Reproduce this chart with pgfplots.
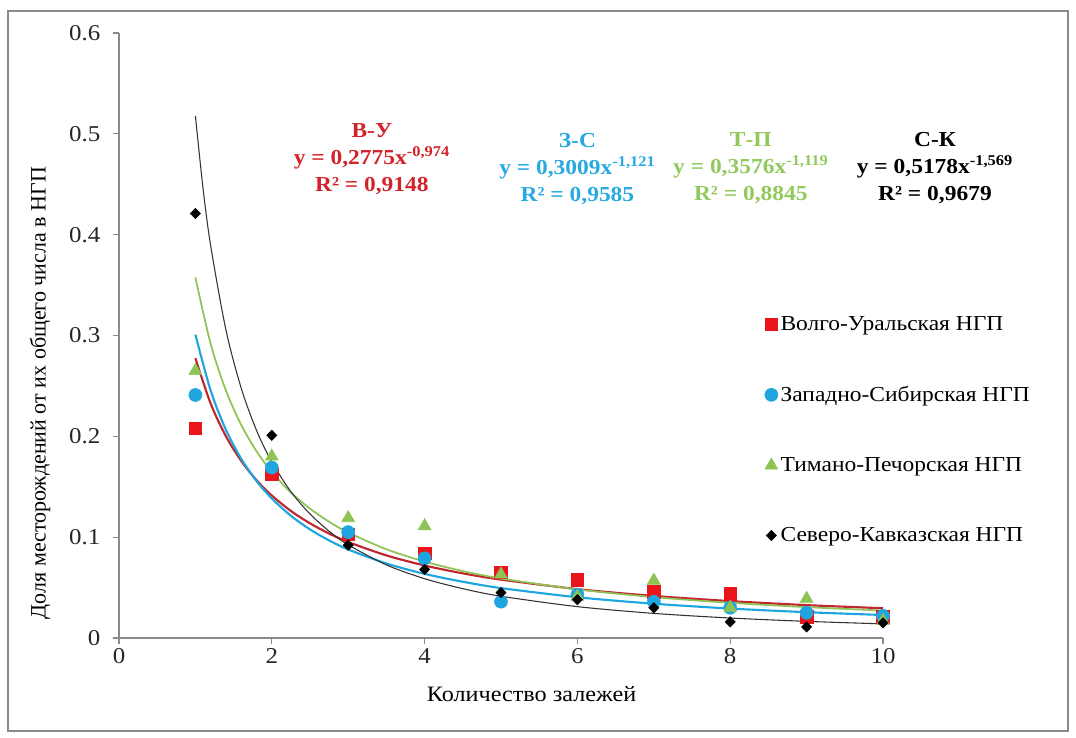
\documentclass[border=0pt]{standalone}
\usepackage{pgfplots}
\pgfplotsset{compat=1.18}
\usepackage{fontspec}
\setmainfont[FakeStretch=1.1]{Liberation Serif}
\newfontfamily\plainserif{Liberation Serif}
\definecolor{cred}{HTML}{E8161B}
\definecolor{credline}{HTML}{C0262D}
\definecolor{credtxt}{HTML}{D2232A}
\definecolor{cblue}{HTML}{1FA6E0}
\definecolor{cbluetxt}{HTML}{27A9E1}
\definecolor{cgreen}{HTML}{8DC455}
\definecolor{cgreentxt}{HTML}{92C95C}
\definecolor{axgray}{HTML}{8A8A8A}
\begin{document}
\begin{tikzpicture}
\useasboundingbox (-89.25pt,-75pt) rectangle (717.75pt,478.5pt);
\draw[axgray, line width=0.9pt] (-83.25pt,-69.75pt) rectangle (711.75pt,470.25pt);
\begin{axis}[
  at={(0pt,0pt)}, anchor=origin,
  scale only axis, width=573pt, height=453.75pt,
  xmin=0, xmax=10, ymin=0, ymax=0.6,
  axis x line*=bottom, axis y line*=left,
  axis line style={axgray, line width=0.9pt},
  xtick={0,2,4,6,8,10}, xticklabels={0,2,4,6,8,10},
  ytick={0,0.1,0.2,0.3,0.4,0.5,0.6},
  yticklabels={0,0.1,0.2,0.3,0.4,0.5,0.6},
  tick align=outside, major tick length=4.5pt,
  tick style={axgray, line width=0.9pt},
  ticklabel style={font=\fontsize{17}{20}\selectfont, text=black!85},
  yticklabel style={xshift=-6pt},
  xlabel={Количество залежей},
  ylabel={Доля месторождений от их общего числа в НГП},
  xlabel style={font=\fontsize{16.5}{19}\selectfont, at={(axis description cs:0.54,0)}, anchor=north, yshift=-33pt},
  ylabel style={font=\plainserif\fontsize{16.5}{19}\selectfont, at={(axis description cs:0,0.405)}, anchor=south, yshift=48pt},
  clip=false,
  legend cell align=left,
  legend style={draw=none, fill=none, at={(axis cs:8.45,0.322)}, anchor=north west,
    font=\fontsize{16}{19}\selectfont, row sep=36.5pt, inner sep=0pt},
]
% data points
\addplot[only marks, mark=square*, mark size=4.7pt, color=cred] coordinates {
 (1,0.208) (2,0.163) (3,0.103) (4,0.084) (5,0.065) (6,0.058) (7,0.046) (8,0.044) (9,0.021) (10,0.021)};
\addlegendentry{Волго-Уральская НГП}
\addplot[only marks, mark=*, mark size=4.9pt, color=cblue] coordinates {
 (1,0.241) (2,0.169) (3,0.105) (4,0.079) (5,0.036) (6,0.043) (7,0.036) (8,0.030) (9,0.025) (10,0.022)};
\addlegendentry{Западно-Сибирская НГП}
\addplot[only marks, mark=triangle*, mark size=5.6pt, color=cgreen] coordinates {
 (1,0.265) (2,0.180) (3,0.119) (4,0.111) (5,0.063) (6,0.041) (7,0.057) (8,0.030) (9,0.039) (10,0.017)};
\addlegendentry{Тимано-Печорская НГП}
\addplot[only marks, mark=diamond*, mark size=3.9pt, mark options={xscale=1.3}, color=black] coordinates {
 (1,0.421) (2,0.201) (3,0.092) (4,0.068) (5,0.045) (6,0.038) (7,0.030) (8,0.016) (9,0.011) (10,0.015)};
\addlegendentry{Северо-Кавказская НГП}
% trend lines (values of the fitted power functions shown on the chart)
\addplot[forget plot, smooth, color=credline, line width=1.6pt] coordinates {
 (1,0.2775) (1.2,0.2324) (1.4,0.2000) (1.6,0.1756) (1.8,0.1565) (2,0.1413) (2.25,0.1260) (2.5,0.1137) (2.75,0.1036) (3,0.0952) (3.5,0.0819) (4,0.0719) (4.5,0.0641) (5,0.0579) (6,0.0485) (7,0.0417) (8,0.0366) (9,0.0326) (10,0.0295)};
\addplot[forget plot, smooth, color=cblue, line width=1.6pt] coordinates {
 (1,0.3009) (1.2,0.2453) (1.4,0.2064) (1.6,0.1777) (1.8,0.1557) (2,0.1384) (2.25,0.1212) (2.5,0.1077) (2.75,0.0968) (3,0.0878) (3.5,0.0739) (4,0.0636) (4.5,0.0558) (5,0.0495) (6,0.0404) (7,0.0340) (8,0.0292) (9,0.0256) (10,0.0228)};
\addplot[forget plot, smooth, color=cgreen, line width=1.3pt] coordinates {
 (1,0.3576) (1.2,0.2916) (1.4,0.2454) (1.6,0.2113) (1.8,0.1852) (2,0.1646) (2.25,0.1443) (2.5,0.1283) (2.75,0.1153) (3,0.1046) (3.5,0.0880) (4,0.0758) (4.5,0.0664) (5,0.0590) (6,0.0482) (7,0.0405) (8,0.0349) (9,0.0306) (10,0.0272)};
\addplot[forget plot, smooth, color=black!80, line width=0.8pt] coordinates {
 (1,0.5178) (1.1,0.4459) (1.2,0.3890) (1.4,0.3054) (1.6,0.2477) (1.8,0.2059) (2,0.1746) (2.25,0.1451) (2.5,0.1230) (2.75,0.1059) (3,0.0924) (3.5,0.0725) (4,0.0588) (4.5,0.0489) (5,0.0414) (6,0.0311) (7,0.0244) (8,0.0198) (9,0.0165) (10,0.0140)};
% equation labels
\node[align=center, text=credtxt, font=\bfseries\fontsize{16}{20}\selectfont, anchor=center] at (axis cs:3.31,0.475) {В-У\\y = 0,2775x\textsuperscript{-0,974}\\R² = 0,9148};
\node[align=center, text=cbluetxt, font=\bfseries\fontsize{16}{20}\selectfont, anchor=center] at (axis cs:6.0,0.465) {З-С\\y = 0,3009x\textsuperscript{-1,121}\\R² = 0,9585};
\node[align=center, text=cgreentxt, font=\bfseries\fontsize{16}{20}\selectfont, anchor=center] at (axis cs:8.27,0.466) {Т-П\\y = 0,3576x\textsuperscript{-1,119}\\R² = 0,8845};
\node[align=center, text=black, font=\bfseries\fontsize{16}{20}\selectfont, anchor=center] at (axis cs:10.68,0.466) {С-К\\y = 0,5178x\textsuperscript{-1,569}\\R² = 0,9679};
\end{axis}
\end{tikzpicture}
\end{document}
